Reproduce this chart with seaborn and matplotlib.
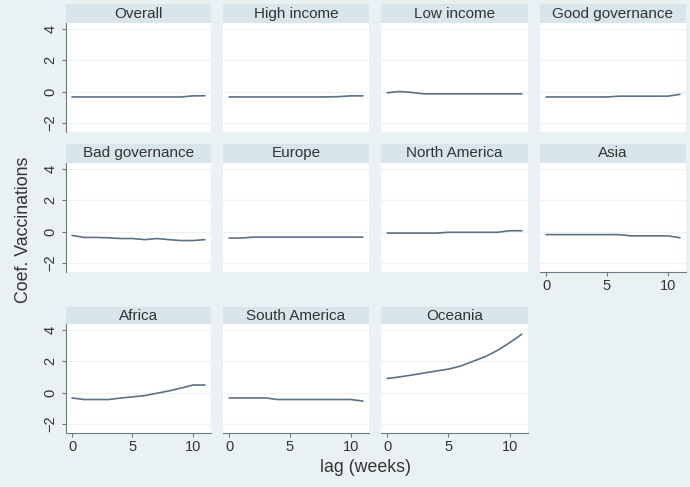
import numpy as np
import pandas as pd
import seaborn as sns
import matplotlib
matplotlib.use("Agg")
import matplotlib.pyplot as plt
from matplotlib.patches import Rectangle

groups = ["Overall", "High income", "Low income", "Good governance",
          "Bad governance", "Europe", "North America", "Asia",
          "Africa", "South America", "Oceania"]
lags = list(range(12))
overall = [-0.35, -0.35, -0.35, -0.35, -0.35, -0.35, -0.35, -0.35, -0.35, -0.35, -0.28, -0.27]
high_income = [-0.35, -0.35, -0.35, -0.35, -0.35, -0.35, -0.35, -0.35, -0.35, -0.33, -0.28, -0.28]
low_income = [-0.08, 0.0, -0.06, -0.15, -0.15, -0.15, -0.15, -0.15, -0.15, -0.15, -0.15, -0.15]
good_gov = [-0.35, -0.35, -0.35, -0.35, -0.35, -0.35, -0.3, -0.3, -0.3, -0.3, -0.3, -0.18]
bad_gov = [-0.25, -0.38, -0.38, -0.4, -0.45, -0.45, -0.52, -0.45, -0.52, -0.58, -0.58, -0.52]
europe = [-0.42, -0.42, -0.36, -0.36, -0.36, -0.36, -0.36, -0.36, -0.36, -0.36, -0.36, -0.36]
north_america = [-0.1, -0.1, -0.1, -0.1, -0.1, -0.05, -0.05, -0.05, -0.05, -0.05, 0.05, 0.05]
asia = [-0.2, -0.2, -0.2, -0.2, -0.2, -0.2, -0.2, -0.28, -0.28, -0.28, -0.28, -0.4]
africa = [-0.35, -0.45, -0.45, -0.45, -0.36, -0.28, -0.2, -0.05, 0.1, 0.28, 0.48, 0.48]
south_america = [-0.35, -0.35, -0.35, -0.35, -0.45, -0.45, -0.45, -0.45, -0.45, -0.45, -0.45, -0.55]
oceania = [0.9, 1.0, 1.12, 1.25, 1.38, 1.5, 1.7, 2.0, 2.3, 2.7, 3.2, 3.75]

series = [overall, high_income, low_income, good_gov, bad_gov, europe,
          north_america, asia, africa, south_america, oceania]

df = pd.DataFrame({
    "group": np.repeat(groups, len(lags)),
    "lag": lags * len(groups),
    "coef": np.concatenate(series),
})

sns.set_theme(style="white")
plt.rcParams["font.family"] = ["Liberation Sans", "DejaVu Sans"]

BG = "#eaf1f3"
HEAD = "#d8e5ea"
TXT = "#333333"
LINE = "#5b7186"

g = sns.FacetGrid(df, col="group", col_order=groups, col_wrap=4,
                  sharex=True, sharey=True, height=1.2, aspect=1.3)
g.map_dataframe(sns.lineplot, x="lag", y="coef", color=LINE, linewidth=1.2)
fig = g.figure
fig.set_size_inches(6.9, 4.87)
fig.set_dpi(100)
fig.patch.set_facecolor(BG)

W, H = 690.0, 487.0
cols = [(66, 211), (223, 369), (381, 528), (540, 686)]
rows = [(23, 132), (163, 272), (324, 433)]
heads = [(4, 23), (144, 163), (307, 324)]

axes = g.axes.flatten()
for i, ax in enumerate(axes):
    r, c = divmod(i, 4)
    x0, x1 = cols[c]
    y0, y1 = rows[r]
    ax.set_position([x0 / W, 1 - y1 / H, (x1 - x0) / W, (y1 - y0) / H])
    ax.set_facecolor("white")
    ax.set_xlim(-0.5, 11.5)
    ax.set_ylim(-2.6, 4.4)
    ax.set_yticks([-2, 0, 2, 4])
    ax.set_xticks([0, 5, 10])
    ax.set_title("")
    ax.set_xlabel("")
    ax.set_ylabel("")
    for y in [-2, 0, 2, 4]:
        ax.axhline(y, color="#edf2f4", lw=0.9, zorder=0)
    for s in ax.spines.values():
        s.set_visible(False)
    show_x = (r == 2) or (r == 1 and c == 3)
    show_y = (c == 0)
    if show_y:
        ax.spines["left"].set_visible(True)
        ax.spines["left"].set_color("#6a7a86")
        ax.spines["left"].set_linewidth(0.8)
        ax.tick_params(axis="y", left=True, length=3, width=0.8, color="#6a7a86",
                       labelleft=True, labelsize=10.5, labelcolor=TXT, pad=3)
        for lab in ax.get_yticklabels():
            lab.set_rotation(90)
            lab.set_va("center")
    else:
        ax.tick_params(axis="y", left=False, labelleft=False)
    if show_x:
        ax.spines["bottom"].set_visible(True)
        ax.spines["bottom"].set_color("#6a7a86")
        ax.spines["bottom"].set_linewidth(0.8)
        ax.tick_params(axis="x", bottom=True, length=3, width=0.8, color="#6a7a86",
                       labelbottom=True, labelsize=10.5, labelcolor=TXT, pad=2)
    else:
        ax.tick_params(axis="x", bottom=False, labelbottom=False)
    hy0, hy1 = heads[r]
    hh = (y0 - hy0) / (y1 - y0)
    rect = Rectangle((0, 1), 1, hh, transform=ax.transAxes, facecolor=HEAD,
                     edgecolor="none", clip_on=False, zorder=5)
    ax.add_patch(rect)
    ax.text(0.5, 1 + hh / 2, groups[i], transform=ax.transAxes, ha="center",
            va="center", fontsize=11, color=TXT, zorder=6)

fig.text(365 / W, 1 - 468 / H, "lag (weeks)", ha="center", va="center",
         fontsize=12.8, color=TXT)
fig.text(24 / W, 1 - 230 / H, "Coef. Vaccinations", ha="center", va="center",
         rotation=90, fontsize=12.8, color=TXT)

fig.savefig("out.png", dpi=100, facecolor=BG)
